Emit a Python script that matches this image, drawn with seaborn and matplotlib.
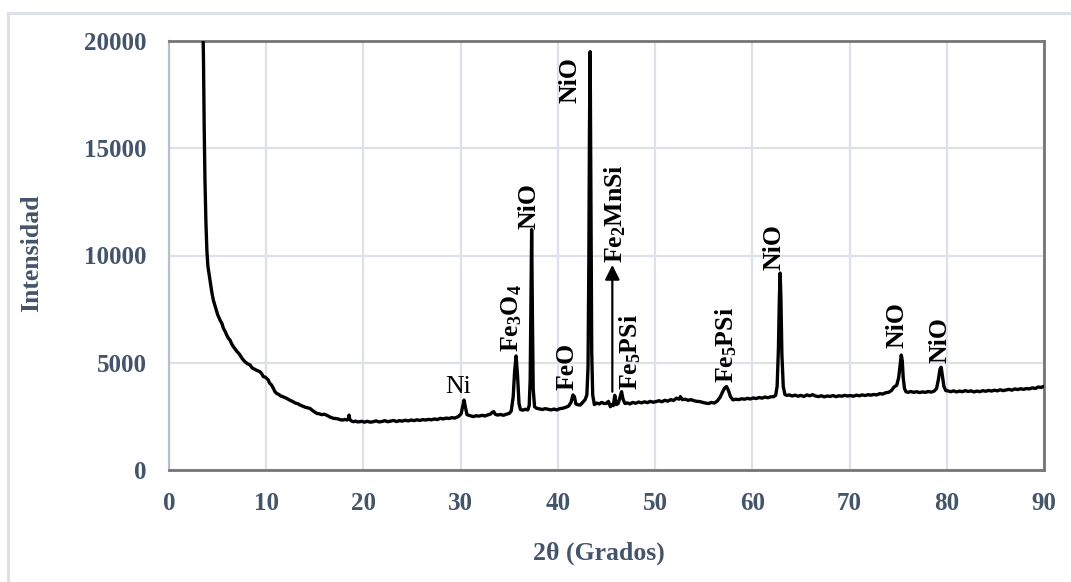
import matplotlib
matplotlib.use("Agg")
import matplotlib.pyplot as plt
from matplotlib.patches import Rectangle
import seaborn as sns
import pandas as pd

# ---------------- data ----------------
two_theta = [
    3.45, 3.55, 3.62, 3.70, 3.80, 3.90, 4.00, 4.22, 4.40, 4.56,
    4.80, 5.00, 5.25, 5.45, 5.60, 5.80, 5.93, 6.10, 6.27, 6.45,
    6.62, 6.80, 7.00, 7.15, 7.30, 7.55, 7.80, 8.05, 8.33, 8.55,
    8.80, 9.05, 9.36, 9.55, 9.70, 9.90, 10.05, 10.20, 10.35, 10.55,
    10.73, 10.90, 11.07, 11.30, 11.50, 11.80, 12.10, 12.40, 12.70, 13.00,
    13.25, 13.47, 13.75, 14.00, 14.25, 14.50, 14.80, 15.19, 15.45, 15.70,
    15.95, 16.20, 16.55, 16.90, 17.15, 17.40, 17.65, 17.90, 18.10, 18.30,
    18.45, 18.52, 18.60, 18.75, 18.96, 19.20, 19.40, 19.60, 19.85, 20.10,
    20.40, 20.70, 21.00, 21.30, 21.60, 21.90, 22.20, 22.50, 22.80, 23.10,
    23.40, 23.70, 24.00, 24.30, 24.60, 24.90, 25.20, 25.50, 25.80, 26.10,
    26.40, 26.70, 27.00, 27.30, 27.60, 27.90, 28.20, 28.50, 28.80, 29.10,
    29.40, 29.75,
    30.05, 30.20, 30.35, 30.50, 30.65, 30.90, 31.30, 31.60, 31.90, 32.20,
    32.50, 32.80, 33.05, 33.25, 33.40, 33.55, 33.80, 34.10, 34.40, 34.70,
    35.00, 35.20,
    35.40, 35.55, 35.70, 35.85, 36.00, 36.15, 36.40, 36.65, 36.90, 37.05,
    37.15, 37.22, 37.30, 37.38, 37.46, 37.60, 37.80, 38.10, 38.40, 38.70,
    39.00, 39.30, 39.60, 39.90, 40.20, 40.50, 40.80, 41.10, 41.35,
    41.55, 41.70, 41.85, 42.05, 42.30, 42.55, 42.80, 42.98, 43.10, 43.18,
    43.25, 43.32, 43.40, 43.48, 43.58, 43.75, 44.00, 44.25, 44.50, 44.75,
    45.00, 45.20, 45.40, 45.55, 45.70, 45.85, 46.00, 46.20, 46.40, 46.55,
    46.70, 46.90, 47.15, 47.40,
    47.70, 48.00, 48.30, 48.60, 48.90, 49.20, 49.50, 49.80, 50.10, 50.40,
    50.70, 51.00, 51.30, 51.60, 51.90, 52.20, 52.45, 52.60, 52.80, 53.10,
    53.40, 53.70, 54.00, 54.30, 54.60, 54.90, 55.20, 55.50, 55.80, 56.10,
    56.40, 56.70, 56.95, 57.15, 57.35, 57.55, 57.75, 58.00, 58.30, 58.60,
    58.90, 59.20, 59.50, 59.80, 60.10, 60.40, 60.70, 61.00, 61.30, 61.60,
    61.90, 62.20,
    62.40, 62.55, 62.68, 62.78, 62.86, 62.94, 63.04, 63.18, 63.35, 63.55,
    63.80, 64.10, 64.40, 64.70, 65.00, 65.30, 65.60, 65.90, 66.20, 66.50,
    66.80, 67.10, 67.40, 67.70, 68.00, 68.30, 68.60, 68.90, 69.20, 69.50,
    69.80, 70.10, 70.40, 70.70, 71.00, 71.30, 71.60, 71.90, 72.20, 72.50,
    72.80, 73.10, 73.40, 73.70, 74.00, 74.30,
    74.60, 74.85, 75.05, 75.20, 75.32, 75.42, 75.52, 75.65, 75.80, 76.00,
    76.30, 76.60, 76.90, 77.20, 77.50, 77.80, 78.10, 78.40, 78.70, 78.95,
    79.15, 79.30, 79.42, 79.55, 79.70, 79.90, 80.10, 80.40, 80.70, 81.00,
    81.30, 81.60, 81.90, 82.20, 82.50, 82.80, 83.10, 83.40, 83.70, 84.00,
    84.30, 84.60, 84.90, 85.20, 85.50, 85.80, 86.10, 86.40, 86.70, 87.00,
    87.30, 87.60, 87.90, 88.20, 88.50, 88.80, 89.10, 89.40, 89.70, 90.00,
]
intensity = [
    22000, 19000, 16000, 13500, 11500, 10200, 9500, 8850, 8300, 7920,
    7550, 7250, 6990, 6820, 6600, 6440, 6300, 6150, 6060, 5880,
    5750, 5640, 5520, 5450, 5360, 5180, 5050, 4960, 4900, 4760,
    4700, 4640, 4580, 4480, 4350, 4330, 4270, 4200, 4050, 3960,
    3810, 3650, 3570, 3520, 3450, 3400, 3340, 3260, 3200, 3120,
    3090, 3030, 2980, 2930, 2900, 2870, 2760, 2640, 2620, 2580,
    2600, 2560, 2470, 2410, 2400, 2380, 2340, 2330, 2360, 2330,
    2380, 2560, 2350, 2290, 2250, 2280, 2240, 2250, 2270, 2230,
    2270, 2230, 2250, 2290, 2240, 2260, 2300, 2250, 2280, 2310,
    2260, 2300, 2280, 2320, 2290, 2330, 2300, 2340, 2310, 2350,
    2330, 2360, 2340, 2380, 2350, 2410, 2380, 2420, 2400, 2440,
    2420, 2490,
    2620, 2950, 3260, 2900, 2580, 2540, 2490, 2530, 2510, 2550,
    2520, 2570, 2600, 2690, 2720, 2600, 2560, 2590, 2550, 2600,
    2640, 2750,
    3400, 4600, 5320, 4400, 3100, 2820, 2790, 2830, 2800, 3000,
    4200, 7500, 11200, 7200, 3800, 2950, 2880, 2850, 2820, 2860,
    2830, 2800, 2840, 2800, 2860, 2880, 2920, 2980, 3150,
    3500, 3420, 3080, 3040, 3030, 3150, 3280, 3500, 4800, 9500,
    16000, 19500, 12000, 5500, 3500, 3050, 3120, 3080, 3150, 3100,
    3110, 3200, 2950, 3050, 3000, 3480, 3050, 3100, 3400, 3650,
    3300, 3100, 3130, 3080,
    3150, 3110, 3170, 3130, 3180, 3140, 3200, 3160, 3190, 3230,
    3180, 3250, 3210, 3280, 3240, 3350, 3300, 3420, 3280, 3300,
    3250, 3280, 3230, 3200, 3190, 3150, 3120, 3100, 3150, 3120,
    3220, 3400, 3650, 3820, 3890, 3700, 3420, 3270, 3300, 3280,
    3320, 3300, 3340, 3310, 3360, 3330, 3380, 3350, 3400, 3370,
    3410, 3420,
    3480, 3900, 5600, 8000, 9180, 8000, 5400, 3900, 3520, 3480,
    3500, 3450, 3490, 3440, 3480, 3430, 3500, 3460, 3510, 3450,
    3420, 3460, 3410, 3450, 3430, 3470, 3420, 3460, 3440, 3480,
    3450, 3470, 3440, 3490, 3460, 3500, 3470, 3510, 3490, 3520,
    3500, 3560, 3540, 3600, 3620, 3700,
    3880, 3950, 4300, 4900, 5360, 5100, 4300, 3800, 3650, 3620,
    3660, 3620, 3650, 3610, 3640, 3620, 3660, 3630, 3680, 3800,
    4250, 4700, 4790, 4400, 3900, 3700, 3690, 3650, 3690, 3640,
    3680, 3650, 3700, 3660, 3690, 3640, 3680, 3650, 3700, 3670,
    3710, 3680, 3720, 3690, 3740, 3700, 3730, 3760, 3720, 3780,
    3750, 3790, 3760, 3800, 3780, 3830, 3800, 3870, 3850, 3900,
]

x_ticks = [0, 10, 20, 30, 40, 50, 60, 70, 80, 90]
y_ticks = [0, 5000, 10000, 15000, 20000]

# peak labels: text, x, y (bottom of rotated text)
peak_labels = ["NiO", "NiO", r"Fe$_3$O$_4$", "FeO", r"Fe$_2$MnSi", r"Fe$_5$PSi",
               r"Fe$_5$PSi", "NiO", "NiO", "NiO"]
peak_label_x = [41.25, 37.0, 35.25, 40.9, 45.9, 47.4, 57.35, 62.2, 74.85, 79.3]
peak_label_y = [17100, 11250, 5500, 3730, 9650, 3730, 4050, 9320, 5690, 4990]
ni_label = ("Ni", 29.75, 3870)
arrow_x = 45.6
arrow_y = (3650, 9560)

# ---------------- style ----------------
sns.set_theme(style="white")
plt.rcParams["font.family"] = ["Liberation Serif", "DejaVu Serif"]
plt.rcParams["mathtext.fontset"] = "custom"
plt.rcParams["mathtext.rm"] = "Liberation Serif:bold"
plt.rcParams["mathtext.it"] = "Liberation Serif:bold"
plt.rcParams["mathtext.bf"] = "Liberation Serif:bold"
plt.rcParams["mathtext.default"] = "rm"

tick_color = "#44546a"
grid_color = "#dde2ea"
spine_dark = "#757575"

fig = plt.figure(figsize=(10.71, 5.82), dpi=100)
ax = fig.add_axes([169 / 1071, 112 / 582, 875 / 1071, 429 / 582])

# outer frame (cut by the image edges on the right and bottom)
fig.patches.append(Rectangle((7.5 / 1071, -0.2), 1.2, 0.2 + (1 - 12.5 / 582),
                             transform=fig.transFigure, fill=False,
                             edgecolor=grid_color, lw=2.2, zorder=0))

df = pd.DataFrame({"two_theta": two_theta, "intensity": intensity})
sns.lineplot(data=df, x="two_theta", y="intensity", ax=ax, color="black",
             lw=2.4, estimator=None, sort=False, zorder=3)

ax.set_xlim(0, 90)
ax.set_ylim(0, 20000)
ax.set_xticks(x_ticks)
ax.set_yticks(y_ticks)
ax.set_xticklabels([str(v) for v in x_ticks])
ax.set_yticklabels([str(v) for v in y_ticks])
ax.grid(True, color=grid_color, lw=1.6, zorder=0)
ax.set_axisbelow(True)
ax.tick_params(axis="both", length=0, labelsize=18, labelcolor=tick_color)
ax.tick_params(axis="x", pad=16)
ax.tick_params(axis="y", pad=16)
for lab in ax.get_xticklabels() + ax.get_yticklabels():
    lab.set_fontweight("bold")

for side in ["top", "right", "bottom"]:
    ax.spines[side].set_color(spine_dark)
    ax.spines[side].set_linewidth(2.0)
ax.spines["left"].set_color("#b3bfcd")
ax.spines["left"].set_linewidth(1.6)

ax.set_xlabel("2θ (Grados)", fontsize=18.5, fontweight="bold", color=tick_color)
ax.set_ylabel("Intensidad", fontsize=18.5, fontweight="bold", color=tick_color)
ax.xaxis.set_label_coords(0.491, -0.168)
ax.yaxis.set_label_coords(-0.144, 0.506)

for txt, xv, yv in zip(peak_labels, peak_label_x, peak_label_y):
    ax.text(xv, yv, txt, rotation=90, ha="center", va="bottom", fontsize=18.5,
            fontweight="bold", color="black", zorder=4)
ax.text(ni_label[1], ni_label[2], ni_label[0], ha="center", va="center",
        fontsize=18.5, color="black", zorder=4)

ax.annotate("", xy=(arrow_x, arrow_y[1]), xytext=(arrow_x, arrow_y[0]),
            arrowprops=dict(arrowstyle="-|>", lw=1.6, color="black",
                            mutation_scale=22, shrinkA=0, shrinkB=0),
            zorder=4)

fig.savefig("out.png", dpi=100)
